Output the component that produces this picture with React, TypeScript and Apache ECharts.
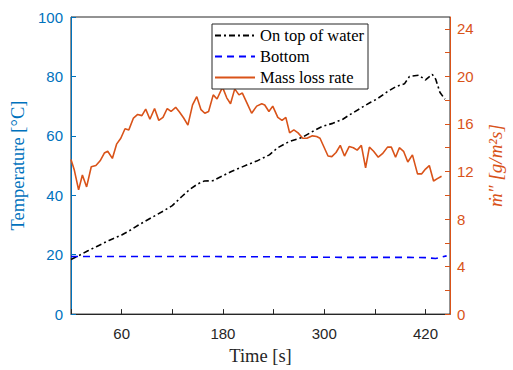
import React, { useEffect, useRef } from "react";
import * as echarts from "echarts";

// On top of water temperature [°C]
const topTime = [0, 10, 20, 30, 45, 60, 70, 80, 95, 110, 120, 131, 140, 150, 158, 168, 180, 190, 200, 210, 220, 235, 245, 258, 274, 285, 298, 310, 322, 332, 343, 355, 362, 374, 385, 395, 401, 412, 420, 428, 432, 437, 443];
const topTemp = [18.4, 19.8, 21.3, 22.7, 24.8, 26.6, 28.2, 30.0, 32.4, 34.8, 36.5, 39.5, 41.8, 43.8, 44.8, 44.9, 46.6, 48.0, 49.2, 50.4, 51.5, 53.6, 56.0, 58.0, 59.5, 61.3, 63.2, 64.2, 65.6, 67.4, 69.3, 71.3, 72.3, 74.7, 76.6, 77.5, 80.0, 80.4, 78.8, 80.7, 79.1, 74.7, 72.3];

// Bottom temperature [°C]
const bottomTime = [0, 40, 80, 120, 160, 200, 240, 280, 320, 360, 400, 420, 432, 445];
const bottomTemp = [19.4, 19.4, 19.4, 19.4, 19.4, 19.3, 19.3, 19.2, 19.1, 19.1, 19.1, 19.0, 18.7, 19.6];

// Mass loss rate [g/m2s]
const massTime = [0, 4, 9, 13.5, 18.5, 24, 29.5, 34.5, 39.5, 43.5, 49, 54, 59, 64, 68.5, 74, 79, 84, 88.5, 93.5, 99, 104, 109, 114, 118.5, 124, 128.5, 133.5, 138.5, 144, 149, 154, 158.5, 163, 168.5, 173, 179.5, 184.5, 189, 194, 199, 203, 208.5, 214, 220, 226, 229.5, 234.5, 239, 245, 250, 254.5, 259, 264, 269, 274.5, 279.5, 286, 291, 295, 304.5, 309, 314, 319, 324, 329.5, 334.5, 339, 344, 349, 353.5, 358.5, 364, 369, 375, 379.5, 384.5, 389, 394, 399, 404.5, 410.5, 415.5, 420, 424.5, 429.5, 434, 439];
const massRate = [13.0, 12.1, 10.45, 11.7, 10.7, 12.4, 12.5, 12.9, 13.55, 13.7, 13.1, 14.3, 14.8, 15.6, 15.5, 16.5, 16.8, 16.7, 17.25, 16.4, 17.3, 16.3, 16.55, 17.3, 17.05, 17.4, 17.0, 16.5, 15.9, 17.6, 18.3, 17.2, 16.9, 17.05, 18.45, 18.1, 19.1, 18.2, 17.7, 18.95, 18.45, 18.6, 17.75, 16.9, 17.5, 17.7, 17.6, 17.05, 17.5, 16.55, 16.3, 16.55, 15.25, 15.5, 15.25, 14.8, 14.8, 15.0, 14.95, 14.8, 13.3, 13.25, 13.6, 14.2, 13.3, 14.1, 14.0, 13.8, 14.2, 12.3, 14.05, 13.7, 13.2, 13.5, 14.05, 14.05, 13.2, 14.0, 13.7, 12.8, 13.4, 11.8, 11.8, 12.2, 12.5, 11.2, 11.4, 11.6];

const xLabels = [60, 180, 300, 420];
const rightLabels = [0, 4, 8, 12, 16, 20, 24];

const pairs = (xs: number[], ys: number[]) => xs.map((x, i) => [x, ys[i]]);

const BLUE = "#0072BD";
const ORANGE = "#D95319";
const DARK = "#262626";
const SANS = "Liberation Sans, Arial, sans-serif";
const SERIF = "Liberation Serif, Times New Roman, serif";

export default function App() {
  const ref = useRef<HTMLDivElement>(null);
  useEffect(() => {
    if (!ref.current) return;
    const chart = echarts.init(ref.current, null, { renderer: "svg" });
    chart.setOption({
      animation: false,
      backgroundColor: "#ffffff",
      grid: {
        left: 71,
        right: 53,
        top: 17,
        bottom: 52,
        show: true,
        borderColor: DARK,
        borderWidth: 1,
        backgroundColor: "transparent",
      },
      legend: {
        left: 212,
        top: 24,
        orient: "vertical",
        backgroundColor: "#ffffff",
        borderColor: DARK,
        borderWidth: 1,
        padding: [3, 4, 3, 2],
        itemGap: 4,
        itemWidth: 40,
        itemHeight: 14,
        itemStyle: { opacity: 0 },
        textStyle: { fontFamily: SERIF, fontSize: 16.5, color: "#000" },
        data: ["On top of water", "Bottom", "Mass loss rate"],
      },
      xAxis: {
        type: "value",
        min: 0,
        max: 449,
        interval: 60,
        name: "Time [s]",
        nameLocation: "middle",
        nameGap: 27,
        nameTextStyle: { fontFamily: SERIF, fontSize: 18.5, color: DARK },
        axisLine: { show: true, lineStyle: { color: DARK, width: 1 } },
        axisTick: { show: true, inside: true, length: 5, lineStyle: { color: DARK } },
        axisLabel: {
          fontFamily: SANS,
          fontSize: 15,
          color: DARK,
          margin: 12,
          showMaxLabel: false,
          formatter: (v: number) => (xLabels.includes(v) ? String(v) : ""),
        },
        splitLine: { show: false },
      },
      yAxis: [
        {
          type: "value",
          position: "left",
          min: 0,
          max: 100,
          interval: 20,
          name: "Temperature [°C]",
          nameLocation: "middle",
          nameRotate: 90,
          nameGap: 34,
          nameTextStyle: { fontFamily: SERIF, fontSize: 18.5, color: BLUE },
          axisLine: { show: true, lineStyle: { color: BLUE, width: 1 } },
          axisTick: { show: true, inside: true, length: 5, lineStyle: { color: BLUE } },
          axisLabel: { fontFamily: SANS, fontSize: 15, color: BLUE, margin: 8 },
          splitLine: { show: false },
        },
        {
          type: "value",
          position: "right",
          min: 0,
          max: 25,
          interval: 2,
          name: "ṁ″ [g/m²s]",
          nameLocation: "middle",
          nameRotate: 90,
          nameGap: 36,
          nameTextStyle: { fontFamily: SERIF, fontSize: 19, color: ORANGE, fontStyle: "italic" },
          axisLine: { show: true, lineStyle: { color: ORANGE, width: 1 } },
          axisTick: { show: true, inside: true, length: 5, lineStyle: { color: ORANGE } },
          axisLabel: {
            fontFamily: SANS,
            fontSize: 15,
            color: ORANGE,
            margin: 7,
            showMaxLabel: false,
            formatter: (v: number) => (rightLabels.includes(v) ? String(v) : ""),
          },
          splitLine: { show: false },
        },
      ],
      series: [
        {
          name: "On top of water",
          type: "line",
          yAxisIndex: 0,
          data: pairs(topTime, topTemp),
          showSymbol: false,
          symbol: "none",
          lineStyle: { color: "#000000", width: 1.6, type: [6, 3, 2, 3] },
          itemStyle: { color: "#000000" },
          z: 3,
        },
        {
          name: "Bottom",
          type: "line",
          yAxisIndex: 0,
          data: pairs(bottomTime, bottomTemp),
          showSymbol: false,
          symbol: "none",
          lineStyle: { color: "#0000FF", width: 1.6, type: [7, 5] },
          itemStyle: { color: "#0000FF" },
          z: 3,
        },
        {
          name: "Mass loss rate",
          type: "line",
          yAxisIndex: 1,
          data: pairs(massTime, massRate),
          showSymbol: false,
          symbol: "none",
          lineStyle: { color: ORANGE, width: 1.6 },
          itemStyle: { color: ORANGE },
          z: 2,
        },
      ],
    });
    return () => chart.dispose();
  }, []);
  return (
    <div
      ref={ref}
      style={{ position: "absolute", left: 0, top: 0, width: 513, height: 370 }}
    />
  );
}
